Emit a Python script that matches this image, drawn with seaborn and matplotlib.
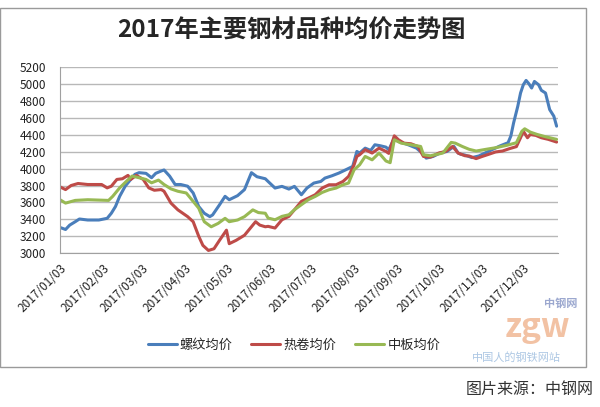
import pandas as pd
import matplotlib
matplotlib.use('Agg')
import matplotlib.pyplot as plt
import seaborn as sns
from matplotlib.patches import Rectangle

sns.set_style('white')
plt.rcParams['font.family'] = ['Noto Sans CJK SC', 'DejaVu Sans']

# data
title = '2017年主要钢材品种均价走势图'
series_names = ['螺纹均价', '热卷均价', '中板均价']
colors = ['#4A7EBB', '#BE4B48', '#98B954']

rebar_dates = ['01-03', '01-07', '01-10', '01-14', '01-17', '01-23', '01-31', '02-06', '02-09', '02-12',
               '02-15', '02-19', '02-22', '02-26', '03-01', '03-06', '03-10', '03-13', '03-17', '03-19',
               '03-23', '03-27', '03-31', '04-05', '04-09', '04-13', '04-17', '04-21', '04-23', '04-28',
               '05-02', '05-05', '05-11', '05-16', '05-21', '05-25', '05-31', '06-02', '06-07', '06-12',
               '06-17', '06-21', '06-26', '06-30', '07-05', '07-10', '07-13', '07-18', '07-23', '07-28',
               '08-02', '08-05', '08-07', '08-11', '08-15', '08-18', '08-22', '08-26', '08-28', '09-01',
               '09-04', '09-11', '09-17', '09-21', '09-24', '09-29', '10-04', '10-09', '10-14', '10-17',
               '10-19', '10-22', '10-27', '11-01', '11-06', '11-11', '11-16', '11-19', '11-22', '11-24',
               '11-26', '11-29', '12-01', '12-03', '12-05', '12-07', '12-09', '12-11', '12-14', '12-16',
               '12-19', '12-22', '12-25', '12-27']
rebar_price = [3304, 3280, 3332, 3372, 3404, 3392, 3392, 3412, 3472, 3552,
               3672, 3792, 3852, 3932, 3952, 3944, 3892, 3944, 3972, 3984,
               3912, 3812, 3812, 3792, 3712, 3552, 3472, 3432, 3452, 3572,
               3672, 3632, 3680, 3752, 3952, 3904, 3880, 3848, 3770, 3790,
               3758, 3790, 3691, 3770, 3829, 3848, 3888, 3915, 3947, 3986,
               4026, 4203, 4184, 4242, 4215, 4282, 4270, 4254, 4223, 4360,
               4321, 4282, 4242, 4184, 4124, 4144, 4184, 4203, 4262, 4184,
               4169, 4160, 4130, 4150, 4189, 4228, 4267, 4287, 4306, 4385,
               4541, 4737, 4894, 4992, 5043, 5004, 4953, 5031, 4992, 4926,
               4894, 4698, 4620, 4502]

coil_dates = ['01-03', '01-07', '01-11', '01-16', '01-23', '02-02', '02-06', '02-09', '02-13', '02-17',
              '02-21', '02-23', '02-27', '03-04', '03-08', '03-12', '03-17', '03-19', '03-24', '03-29',
              '04-05', '04-09', '04-13', '04-16', '04-20', '04-24', '04-28', '05-03', '05-05', '05-10',
              '05-16', '05-20', '05-24', '05-27', '05-31', '06-02', '06-07', '06-12', '06-17', '06-21',
              '06-26', '07-01', '07-06', '07-11', '07-16', '07-21', '07-26', '07-30', '08-03', '08-05',
              '08-07', '08-11', '08-16', '08-21', '08-26', '08-28', '09-01', '09-04', '09-08', '09-13',
              '09-18', '09-22', '09-27', '10-03', '10-08', '10-13', '10-17', '10-22', '10-25', '10-30',
              '11-03', '11-08', '11-13', '11-18', '11-23', '11-28', '12-01', '12-03', '12-06', '12-08',
              '12-12', '12-16', '12-21', '12-27']
coil_price = [3784, 3752, 3800, 3824, 3812, 3812, 3772, 3792, 3872, 3880,
              3920, 3872, 3920, 3872, 3772, 3744, 3752, 3732, 3592, 3512,
              3432, 3372, 3200, 3092, 3032, 3052, 3152, 3272, 3112, 3152,
              3212, 3292, 3372, 3332, 3312, 3317, 3297, 3395, 3435, 3513,
              3612, 3651, 3691, 3770, 3809, 3809, 3848, 3907, 4045, 4144,
              4164, 4223, 4184, 4242, 4203, 4180, 4388, 4341, 4301, 4294,
              4262, 4144, 4136, 4184, 4203, 4262, 4184, 4152, 4149, 4118,
              4142, 4169, 4197, 4208, 4236, 4260, 4365, 4443, 4365, 4404,
              4393, 4365, 4346, 4314]

plate_dates = ['01-03', '01-07', '01-14', '01-23', '02-07', '02-10', '02-15', '02-20', '02-24', '03-01',
               '03-06', '03-10', '03-15', '03-19', '03-24', '03-29', '04-04', '04-08', '04-13', '04-17',
               '04-22', '04-27', '05-02', '05-05', '05-11', '05-16', '05-22', '05-26', '05-31', '06-02',
               '06-07', '06-12', '06-17', '06-21', '06-26', '07-01', '07-06', '07-11', '07-16', '07-21',
               '07-26', '07-30', '08-03', '08-07', '08-11', '08-16', '08-21', '08-26', '08-29', '09-01',
               '09-06', '09-13', '09-20', '09-22', '09-27', '10-06', '10-12', '10-15', '10-20', '10-25',
               '10-30', '11-06', '11-13', '11-21', '11-28', '12-02', '12-04', '12-08', '12-13', '12-19',
               '12-27']
plate_price = [3632, 3592, 3624, 3632, 3624, 3672, 3772, 3852, 3912, 3892,
               3872, 3832, 3864, 3812, 3760, 3732, 3712, 3632, 3532, 3372,
               3312, 3352, 3412, 3372, 3392, 3432, 3512, 3480, 3472, 3415,
               3395, 3435, 3454, 3513, 3573, 3632, 3671, 3718, 3750, 3770,
               3809, 3829, 3986, 4045, 4144, 4104, 4184, 4090, 4070, 4341,
               4301, 4282, 4262, 4164, 4152, 4184, 4310, 4301, 4262, 4228,
               4208, 4228, 4247, 4275, 4306, 4443, 4471, 4432, 4404, 4377,
               4346]

tick_labels = ['2017/%02d/03' % m for m in range(1, 13)]

frames = []
for name, d, p in zip(series_names, [rebar_dates, coil_dates, plate_dates],
                      [rebar_price, coil_price, plate_price]):
    frames.append(pd.DataFrame({'date': pd.to_datetime(['2017-' + x for x in d]),
                                'price': p, 'kind': name}))
df = pd.concat(frames, ignore_index=True)

fig = plt.figure(figsize=(6, 4.07), dpi=100)
ax = fig.add_axes([0.1, 0.378, 0.83, 0.457])

sns.lineplot(data=df, x='date', y='price', hue='kind', hue_order=series_names,
             palette=colors, linewidth=2.2, ax=ax, legend=False)

# axes look
ax.set_ylim(3000, 5200)
ax.set_yticks(range(3000, 5201, 200))
ax.set_xlim(pd.Timestamp('2017-01-03'), pd.Timestamp('2017-12-28'))
ax.set_xticks(pd.to_datetime([t.replace('/', '-') for t in tick_labels]))
ax.set_xticklabels(tick_labels, rotation=45, ha='right', rotation_mode='anchor')
ax.tick_params(axis='y', length=0, pad=10, labelsize=8.5, labelcolor='#222222')
ax.tick_params(axis='x', length=0, pad=6, labelsize=8.5, labelcolor='#222222')
ax.grid(axis='y', color='#b8b8b8', linewidth=1)
ax.set_axisbelow(True)
for s in ['top', 'right']:
    ax.spines[s].set_visible(False)
for s in ['left', 'bottom']:
    ax.spines[s].set_color('#a0a0a0')
ax.set_xlabel('')
ax.set_ylabel('')

fig.text(0.485, 0.925, title, ha='center', va='center', fontsize=17.5, fontweight='bold')

# legend
handles = [plt.Line2D([], [], color=c, linewidth=2.2) for c in colors]
fig.legend(handles, series_names, loc='center', bbox_to_anchor=(0.49, 0.152), ncol=3,
           frameon=False, fontsize=9.5, handlelength=2.2, handletextpad=0.25, columnspacing=1.4)

# chart frame
fig.patches.append(Rectangle((0.0, 1 - 367 / 407), 586 / 600, 359 / 407, transform=fig.transFigure,
                             fill=False, edgecolor='#9a9a9a', linewidth=1))

# watermark and source
fig.text(0.895, 0.195, 'zgw', ha='center', va='center', fontsize=24, fontweight='bold',
         style='italic', color='#e8905a', alpha=0.55)
fig.text(0.935, 0.255, '中钢网', ha='center', va='center', fontsize=8, fontweight='bold',
         color='#5a6fb0', alpha=0.6)
fig.text(0.86, 0.122, '中国人的钢铁网站', ha='center', va='center', fontsize=8,
         color='#5a8fc8', alpha=0.5)
fig.text(0.99, 0.044, '图片来源：中钢网', ha='right', va='center', fontsize=11.5, color='#333333')

fig.savefig('out.png', dpi=100, facecolor='white')
